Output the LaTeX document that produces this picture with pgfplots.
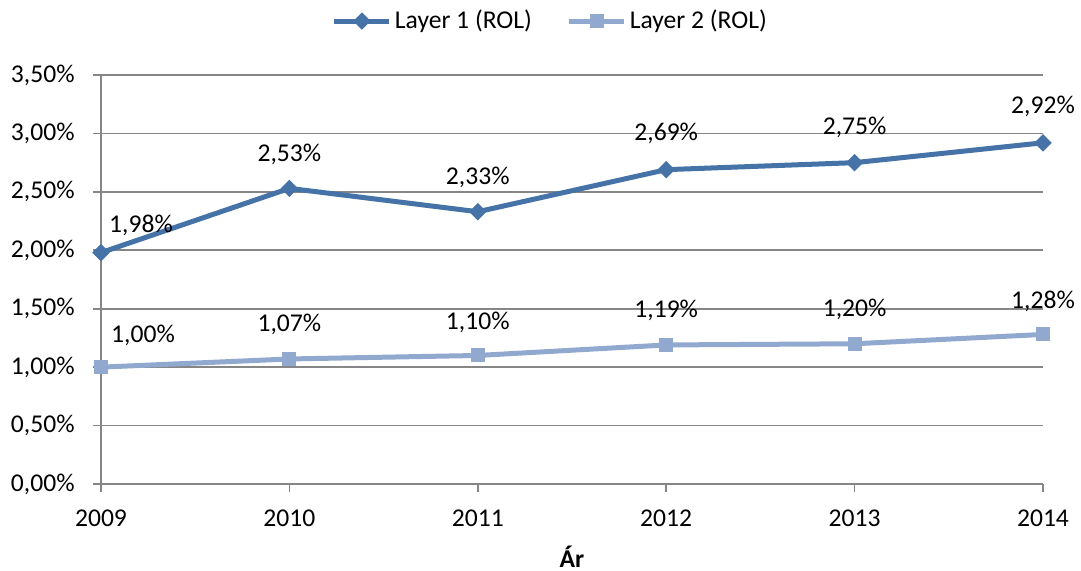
\documentclass[border=0pt]{standalone}
\usepackage{fontspec}
\setmainfont{Carlito}
\usepackage{pgfplots}
\usepackage{pgfplotstable}
\pgfplotsset{compat=1.18}
\definecolor{layerA}{HTML}{4572A7}
\definecolor{layerB}{HTML}{92A9CF}
\definecolor{gridgray}{HTML}{868686}
\newcommand{\fsz}{\fontsize{12.8}{15}\selectfont}

\pgfplotstableread{
x y dx dy
0 1.98 20 10
1 2.53 0 13.5
2 2.33 0 13.5
3 2.69 0 14.5
4 2.75 0 14
5 2.92 0 14.5
}\layerone
\pgfplotstableread{
x y dx dy
0 1.00 21 12.5
1 1.07 0 13.5
2 1.10 0 13
3 1.19 0 13.5
4 1.20 0 13.5
5 1.28 0 13
}\layertwo

\begin{document}
\begin{tikzpicture}
\path[use as bounding box] (-50.5pt,-43pt) rectangle (490pt,242pt);
\begin{axis}[
  scale only axis, width=471pt, height=204.5pt,
  at={(0,0)}, anchor=south west,
  xmin=0, xmax=5, ymin=0, ymax=3.5,
  axis lines=left,
  axis line style={-, draw=gridgray, line width=0.8pt},
  xtick={0,1,2,3,4,5},
  xticklabels={2009,2010,2011,2012,2013,2014},
  ytick={0,0.5,1,1.5,2,2.5,3,3.5},
  yticklabels={{0,00\%},{0,50\%},{1,00\%},{1,50\%},{2,00\%},{2,50\%},{3,00\%},{3,50\%}},
  tick align=outside, major tick length=4pt,
  tick style={draw=gridgray, line width=0.8pt},
  ymajorgrids, grid style={draw=gridgray, line width=0.8pt},
  clip=false,
  every tick label/.append style={font=\fsz, text=black},
  yticklabel style={anchor=east, inner sep=0pt, xshift=-9pt},
  xticklabel style={anchor=base, inner sep=0pt, yshift=-17pt},
  xlabel={\textbf{Ár}},
  xlabel style={at={(axis description cs:0.5,0)}, anchor=base, yshift=-41.5pt, font=\fsz, inner sep=0pt},
  legend style={at={(axis description cs:0.476,1.132)}, anchor=center, draw=none, fill=none,
    font=\fsz, inner sep=0pt, nodes={inner sep=0pt},
    /tikz/every even column/.append style={column sep=17.5pt},
    /tikz/every odd column/.append style={column sep=1.5pt}},
  legend columns=-1,
  legend image code/.code={\draw[mark repeat=2, mark phase=2] plot coordinates {(0pt,0pt) (13.75pt,0pt) (27.5pt,0pt)};},
]
\addplot[layerA, line width=2.5pt, mark=square*, mark size=2.83pt,
  mark options={rotate=45, solid, line width=0.5pt},
  nodes near coords={\pgfmathprintnumber[fixed, fixed zerofill, precision=2, use comma, assume math mode=true]{\pgfplotspointmeta}\%},
  point meta=y,
  visualization depends on={\thisrow{dx} \as \dx},
  visualization depends on={\thisrow{dy} \as \dy},
  every node near coord/.append style={anchor=base, xshift=\dx, yshift=\dy, text=black, font=\fsz, inner sep=0pt},
  ] table[x=x, y=y] {\layerone};
\addlegendentry{Layer 1 (ROL)}
\addplot[layerB, line width=2.5pt, mark=square*, mark size=3.25pt,
  mark options={solid, line width=0.5pt},
  nodes near coords={\pgfmathprintnumber[fixed, fixed zerofill, precision=2, use comma, assume math mode=true]{\pgfplotspointmeta}\%},
  point meta=y,
  visualization depends on={\thisrow{dx} \as \dx},
  visualization depends on={\thisrow{dy} \as \dy},
  every node near coord/.append style={anchor=base, xshift=\dx, yshift=\dy, text=black, font=\fsz, inner sep=0pt},
  ] table[x=x, y=y] {\layertwo};
\addlegendentry{Layer 2 (ROL)}
\end{axis}
\end{tikzpicture}
\end{document}
